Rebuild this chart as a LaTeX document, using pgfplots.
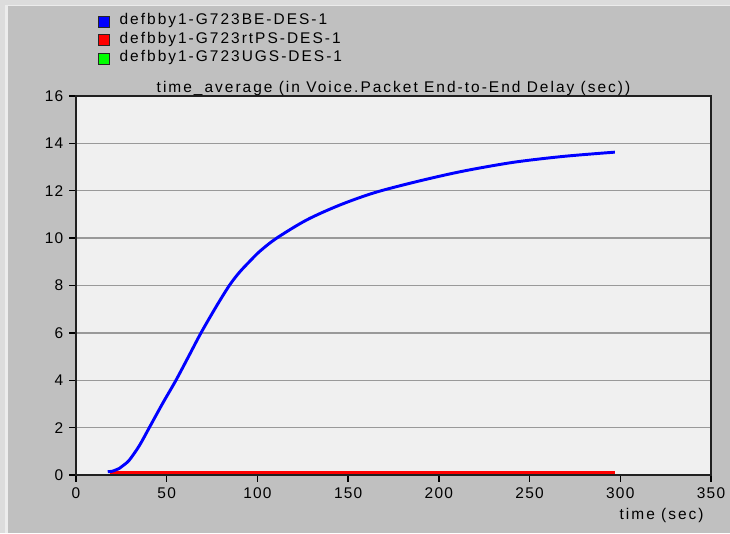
\documentclass[border=0pt]{standalone}
\usepackage{fontspec}
\setmainfont{Liberation Sans}[LetterSpace=8]
\newfontfamily\labelfamily{Liberation Sans}[LetterSpace=13]
\usepackage{pgfplots}
\pgfplotsset{compat=1.18}
\definecolor{panel}{HTML}{C0C0C0}
\definecolor{strip}{HTML}{DCDCDC}
\definecolor{stripin}{HTML}{ECECEC}
\definecolor{plotbg}{HTML}{F0F0F0}
\definecolor{gridc}{HTML}{999999}
\definecolor{frame}{HTML}{202020}
\definecolor{seriesBE}{HTML}{0000FF}
\definecolor{seriesRT}{HTML}{FF0000}
\definecolor{seriesUG}{HTML}{00FF00}
\newcommand\chartfont{\fontsize{11.6}{13.5}\selectfont}
\newcommand\labelfont{\labelfamily\fontsize{11.6}{13.5}\selectfont}

% time-averaged voice packet end-to-end delay (sec)
\pgfplotstableread{
t     d
17.5  0.14
20    0.16
23.9  0.28
26    0.40
29.4  0.63
35    1.25
40.4  2.00
47.8  3.03
55.1  4.00
62.5  5.07
68.9  6.00
77.2  7.10
84.5  8.00
90    8.55
95.5  9.00
101.4 9.45
110.6 10.00
127.2 10.77
145.5 11.40
165   11.93
189.6 12.42
213.5 12.83
241   13.20
268.6 13.45
297   13.63
}\beData
\pgfplotstableread{
t     d
18.5  0.12
297   0.12
}\rtpsData
\pgfplotstableread{
t     d
18.5  0.12
297   0.12
}\ugsData

\begin{document}
\begin{tikzpicture}[x=0.75pt,y=0.75pt]
% window background; the axis' lower left corner sits at the origin
\path[use as bounding box] (-76,-58) rectangle (654,475);
\fill[strip] (-76,-58) rectangle (654,475);
\fill[stripin] (-71,-58) rectangle (654,470);
\fill[panel] (-68,-58) rectangle (654,469);
\begin{axis}[
  anchor=south west,
  scale only axis, width=476.25pt, height=284.25pt,
  xmin=0, xmax=350, ymin=0, ymax=16,
  xtick={0,50,...,350}, ytick={0,2,...,16},
  axis background/.style={fill=plotbg},
  axis line style={frame, line width=1.4pt},
  tick align=outside, major tick length=5pt,
  tick style={black, line width=1pt},
  xtick pos=bottom, ytick pos=left,
  ymajorgrids, major grid style={gridc, line width=1pt},
  /pgf/number format/assume math mode=true,
  ticklabel style={font=\chartfont},
  xticklabel style={yshift=-1pt},
  yticklabel style={xshift=-1pt},
  title={time\_average (in Voice.Packet End-to-End Delay (sec))},
  title style={font=\labelfont, at={(0.5,1)}, anchor=base, yshift=-3pt},
  xlabel={time (sec)},
  xlabel style={font=\labelfont, at={(1,0)}, anchor=base east, yshift=-33pt, xshift=-2pt},
  legend style={draw=none, fill=none, font=\labelfont,
    at={(0.0346,1.22)}, anchor=north west,
    row sep=0.3pt, inner sep=0pt,
    nodes={inner sep=0pt, text height=9pt, text depth=4.5pt, anchor=west}},
  legend cell align=left,
  legend image code/.code={%
    \draw[#1, draw=black!85, line width=0.6pt, fill] (0pt,-4pt) rectangle (8.25pt,4.25pt);
    \path[draw=none, fill=none] (0pt,0pt) -- (15.75pt,0pt);},
]
\addlegendimage{color=seriesBE}
\addlegendentry{defbby1-G723BE-DES-1}
\addlegendimage{color=seriesRT}
\addlegendentry{defbby1-G723rtPS-DES-1}
\addlegendimage{color=seriesUG}
\addlegendentry{defbby1-G723UGS-DES-1}
\addplot[seriesUG, line width=2.2pt, forget plot] table[x=t,y=d] {\ugsData};
\addplot[seriesRT, line width=2.2pt, forget plot] table[x=t,y=d] {\rtpsData};
\addplot[seriesBE, line width=2.2pt, smooth, tension=0.5, forget plot] table[x=t,y=d] {\beData};
\end{axis}
\end{tikzpicture}
\end{document}
